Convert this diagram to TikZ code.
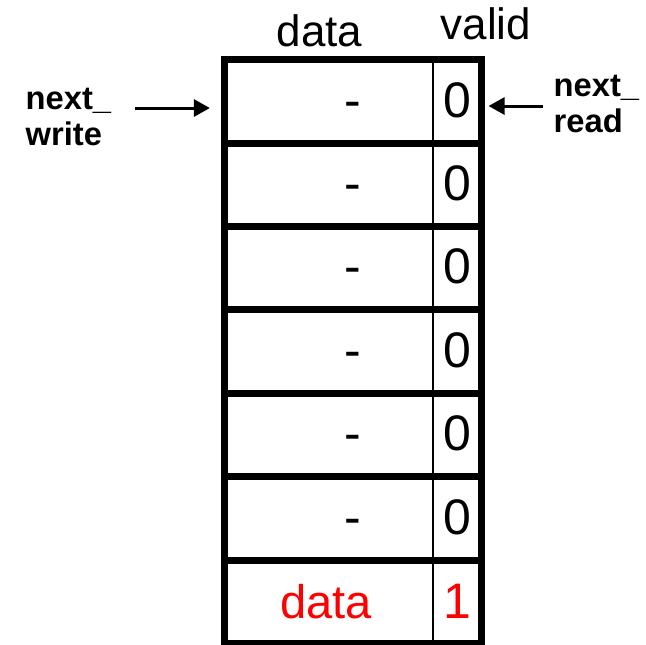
\documentclass[tikz,border=0pt]{standalone}
\usepackage{fontspec}
\setmainfont{Liberation Sans}
\usetikzlibrary{arrows.meta,calc}
\definecolor{fifored}{RGB}{255,0,0}

\begin{document}
\begin{tikzpicture}[x=0.01cm,y=-0.01cm,
    slot/.style={draw,line width=2pt,minimum width=2.565cm,minimum height=0.834cm,inner sep=0pt},
    entry/.style={anchor=base,inner sep=0pt,font=\fontsize{14.2}{16}\selectfont},
    head/.style={anchor=base,inner sep=0pt,font=\fontsize{12.5}{15}\selectfont},
    ptrlabel/.style={anchor=west,align=left,inner sep=0pt,font=\bfseries\fontsize{9.3}{10.5}\selectfont},
    ptr/.style={-{Triangle[length=0.16cm,width=0.17cm]},line width=0.85pt}]
  \useasboundingbox (0,0) rectangle (646,644);
  % seven slots of the buffer, data | valid
  \foreach \i in {0,...,6}
    \node[slot] (row\i) at (352.7,101.4+83.4*\i) {};
  \draw[line width=0.55pt] (433,0 |- row0.north) -- (433,0 |- row6.south);
  \node[head] (hdata) at (319.5,46.5) {data};
  \node[head] (hvalid) at (486,39) {valid};
  \foreach \i in {0,...,5} {
    \node[entry] (d\i) at (353,117+83.4*\i) {-};
    \node[entry] (v\i) at (457.5,117+83.4*\i) {0};
  }
  \node[entry,text=fifored,font=\fontsize{13.4}{16}\selectfont] (d6) at (326,618) {data};
  \node[entry,text=fifored] (v6) at (457.5,618) {1};
  % pointers
  \node[ptrlabel] (nextw) at (25,117) {next\_\\write};
  \node[ptrlabel] (nextr) at (553,104) {next\_\\read};
  \coordinate (wtail) at (135,108);
  \coordinate (rtail) at (543,106);
  \draw[ptr,shorten >=0.11cm] (wtail) -- (wtail -| row0.west);
  \draw[ptr,shorten >=0.04cm] (rtail) -- (rtail -| row0.east);
\end{tikzpicture}
\end{document}
